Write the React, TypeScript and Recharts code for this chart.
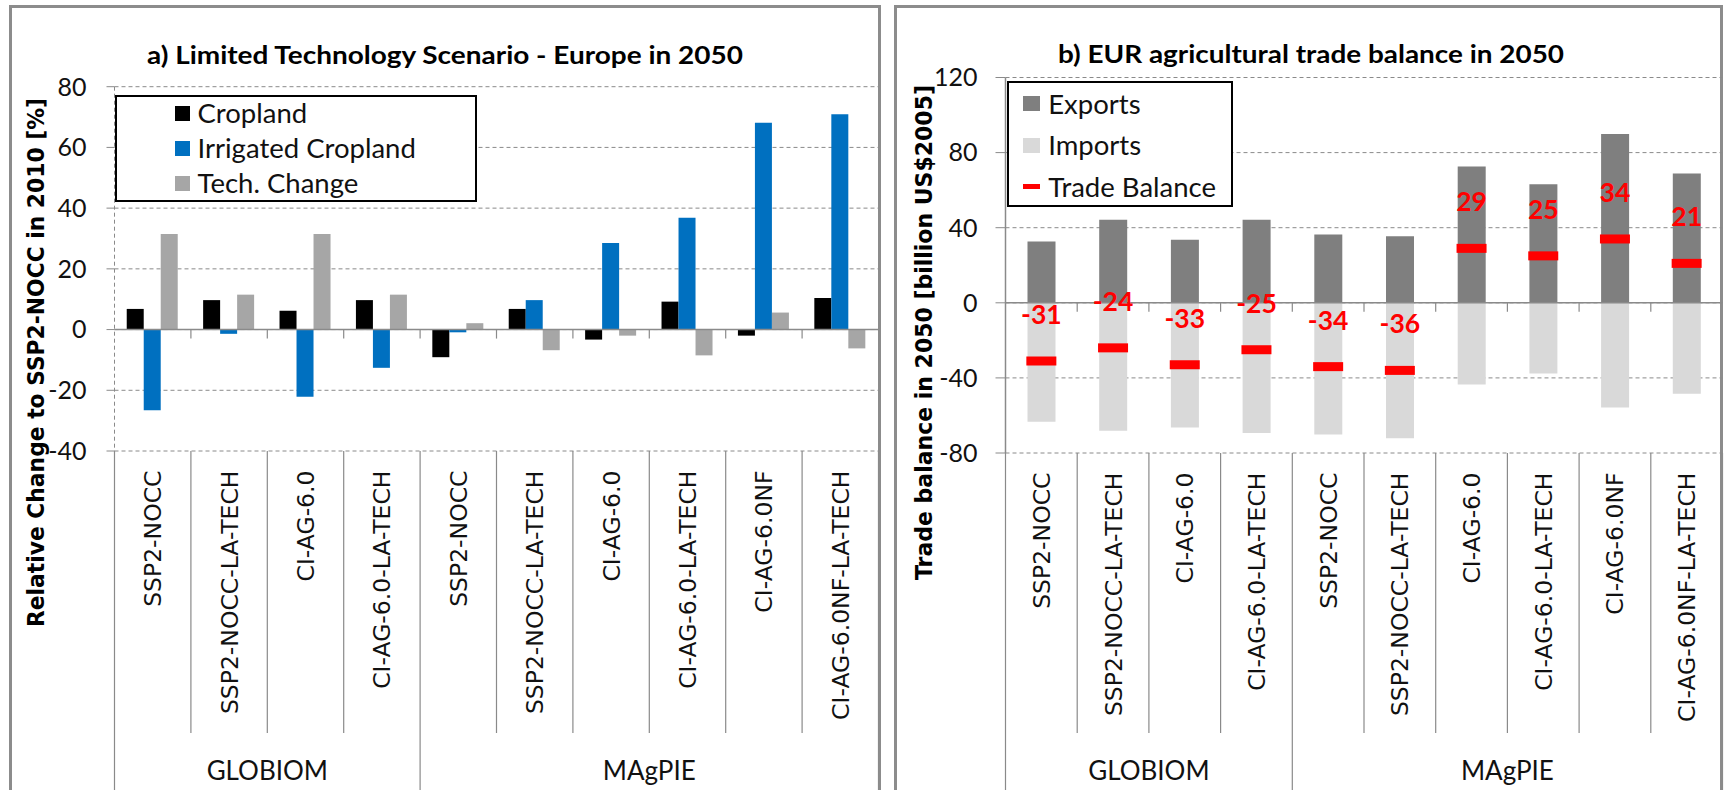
import React from 'react';
import {
  BarChart,
  ComposedChart,
  Bar,
  Line,
  XAxis,
  YAxis,
  CartesianGrid,
  ReferenceLine,
  Legend,
} from 'recharts';

// ---------- data ----------
const categories = [
  'SSP2-NOCC',
  'SSP2-NOCC-LA-TECH',
  'CI-AG-6.0',
  'CI-AG-6.0-LA-TECH',
  'SSP2-NOCC',
  'SSP2-NOCC-LA-TECH',
  'CI-AG-6.0',
  'CI-AG-6.0-LA-TECH',
  'CI-AG-6.0NF',
  'CI-AG-6.0NF-LA-TECH',
];
const models = [
  'GLOBIOM', 'GLOBIOM', 'GLOBIOM', 'GLOBIOM',
  'MAgPIE', 'MAgPIE', 'MAgPIE', 'MAgPIE', 'MAgPIE', 'MAgPIE',
];

const cropland = [6.8, 9.7, 6.2, 9.7, -9.1, 6.8, -3.3, 9.2, -2.0, 10.4];
const irrigatedCropland = [-26.6, -1.4, -22.1, -12.6, -0.9, 9.7, 28.5, 36.8, 68.1, 70.9];
const techChange = [31.5, 11.5, 31.5, 11.5, 2.1, -6.8, -2.0, -8.5, 5.6, -6.2];

const exportsValues = [32.7, 44.2, 33.6, 44.2, 36.4, 35.5, 72.6, 63.1, 89.9, 68.9];
const importsValues = [-63.4, -68.1, -66.4, -69.3, -70.2, -72.1, -43.5, -37.7, -55.8, -48.5];
const tradeBalance = [-31, -24, -33, -25, -34, -36, 29, 25, 34, 21];

const leftTicks = [-40, -20, 0, 20, 40, 60, 80];
const rightTicks = [-80, -40, 0, 40, 80, 120];

const leftSeries = ['Cropland', 'Irrigated Cropland', 'Tech. Change'];
const rightSeries = ['Exports', 'Imports', 'Trade Balance'];

const leftTitle = 'a) Limited Technology Scenario - Europe in 2050';
const rightTitle = 'b) EUR agricultural trade balance in 2050';
const leftYTitle = 'Relative Change to SSP2-NOCC in 2010 [%]';
const rightYTitle = 'Trade balance in 2050 [billion US$2005]';

// ---------- styles ----------
const GRID = '#8a8a8a';
const SANS = "Lato, 'Open Sans', sans-serif";
const WIDE = "'DejaVu Sans', Verdana, sans-serif";
const C_CROP = '#000000';
const C_IRR = '#0070c0';
const C_TECH = '#a6a6a6';
const C_EXP = '#7f7f7f';
const C_IMP = '#d9d9d9';
const C_BAL = '#ff0000';

const keys = categories.map((c, i) => `${models[i]}|${c}`);

const leftRows = keys.map((k, i) => ({
  key: k,
  cropland: cropland[i],
  irrigated: irrigatedCropland[i],
  tech: techChange[i],
}));

const rightRows = keys.map((k, i) => ({
  key: k,
  exports: exportsValues[i],
  imports: importsValues[i],
  balance: tradeBalance[i],
}));

function makeCategoryTick(innerLen: number, labelGap: number, groupBaseline: number) {
  return function CategoryTick(props: any) {
    const { x, y, payload } = props;
    const idx = keys.indexOf(String(payload.value));
    const model = models[idx];
    const cat = categories[idx];
    const half = payload.offset ?? 0;
    const left = x - half;
    const right = x + half;
    const firstIdx = models.indexOf(model);
    const count = models.filter((m) => m === model).length;
    const isFirst = firstIdx === idx;
    const isLast = idx === models.length - 1;
    const ly = y + labelGap;
    return (
      <g>
        <line x1={left} x2={left} y1={y} y2={isFirst ? y + 400 : y + innerLen} stroke={GRID} strokeWidth={1.2} />
        {isLast && <line x1={right} x2={right} y1={y} y2={y + 400} stroke={GRID} strokeWidth={1.2} />}
        <text
          x={x}
          y={ly}
          transform={`rotate(-90 ${x} ${ly})`}
          textAnchor="end"
          dy="0.36em"
          fontFamily={WIDE}
          fontSize={23.5}
          fill="#111"
        >
          {cat}
        </text>
        {isFirst && (
          <text
            x={x + (count - 1) * half}
            y={y + groupBaseline}
            textAnchor="middle"
            fontFamily={SANS}
            fontSize={26}
            fill="#111"
          >
            {model}
          </text>
        )}
      </g>
    );
  };
}

const leftTick = makeCategoryTick(282, 19.5, 329);
const rightTick = makeCategoryTick(280, 19.5, 327);

function ZeroLine(props: any) {
  const { x1, y1, x2, y2 } = props;
  const n = keys.length;
  const step = (x2 - x1) / n;
  return (
    <g>
      <line x1={x1} y1={y1} x2={x2} y2={y2} stroke={GRID} strokeWidth={1.5} />
      {Array.from({ length: n - 1 }, (_, k) => (
        <line
          key={k}
          x1={x1 + step * (k + 1)}
          x2={x1 + step * (k + 1)}
          y1={y1}
          y2={y1 + 9}
          stroke={GRID}
          strokeWidth={1.2}
        />
      ))}
    </g>
  );
}

function BalanceDot(props: any) {
  const { cx, cy, payload } = props;
  if (cx == null || cy == null) return <g />;
  return (
    <g>
      <rect x={cx - 15} y={cy - 4.5} width={30} height={9} fill={C_BAL} />
      <text
        x={cx}
        y={cy - 37}
        textAnchor="middle"
        fontFamily={SANS}
        fontWeight={700}
        fontSize={26.5}
        fill={C_BAL}
      >
        {String(payload.balance)}
      </text>
    </g>
  );
}

const leftColors = [C_CROP, C_IRR, C_TECH];

function LeftLegend() {
  return (
    <div
      style={{
        position: 'relative',
        width: 362.5,
        height: 107,
        boxSizing: 'border-box',
        border: '2px solid #000',
        background: '#fff',
      }}
    >
      {leftSeries.map((name, i) => (
        <div key={name} style={{ position: 'absolute', left: 0, top: 1 + i * 35, height: 30, width: '100%' }}>
          <div style={{ position: 'absolute', left: 58.5, top: 7.5, width: 15, height: 15, background: leftColors[i] }} />
          <div
            style={{
              position: 'absolute',
              left: 81,
              top: 0,
              lineHeight: '30px',
              fontSize: 27.5,
              fontFamily: SANS,
              color: '#111',
              whiteSpace: 'nowrap',
            }}
          >
            {name}
          </div>
        </div>
      ))}
    </div>
  );
}

function RightLegend() {
  return (
    <div
      style={{
        position: 'relative',
        width: 226.5,
        height: 126,
        boxSizing: 'border-box',
        border: '2px solid #000',
        background: '#fff',
      }}
    >
      {rightSeries.map((name, i) => (
        <div key={name} style={{ position: 'absolute', left: 0, top: 6 + i * 41.5, height: 30, width: '100%' }}>
          {i < 2 ? (
            <div
              style={{
                position: 'absolute',
                left: 14.5,
                top: 7.5,
                width: 16.5,
                height: 15,
                background: i === 0 ? C_EXP : C_IMP,
              }}
            />
          ) : (
            <div style={{ position: 'absolute', left: 14.5, top: 12.5, width: 16.5, height: 5, background: C_BAL }} />
          )}
          <div
            style={{
              position: 'absolute',
              left: 39.5,
              top: 0,
              lineHeight: '30px',
              fontSize: 27.5,
              fontFamily: SANS,
              color: '#111',
              whiteSpace: 'nowrap',
            }}
          >
            {name}
          </div>
        </div>
      ))}
    </div>
  );
}

export default function App() {
  return (
    <div
      style={{
        position: 'absolute',
        left: 0,
        top: 0,
        width: 1725,
        height: 790,
        overflow: 'hidden',
        background: '#fff',
      }}
    >
      {/* panel frames */}
      <div
        style={{
          position: 'absolute',
          left: 9,
          top: 5,
          width: 872,
          height: 790,
          boxSizing: 'border-box',
          border: '3px solid #8c8c8c',
          borderBottom: 'none',
        }}
      />
      <div
        style={{
          position: 'absolute',
          left: 894,
          top: 5,
          width: 829,
          height: 790,
          boxSizing: 'border-box',
          border: '3px solid #8c8c8c',
          borderBottom: 'none',
        }}
      />

      {/* left chart */}
      <div style={{ position: 'absolute', left: 0, top: 0 }}>
        <BarChart
          width={880}
          height={790}
          data={leftRows}
          margin={{ top: 86.7, right: 1.5, bottom: 0, left: 54.5 }}
          barCategoryGap="16%"
          barGap={0}
        >
          <CartesianGrid vertical={false} stroke={GRID} strokeDasharray="4 3" />
          <XAxis
            dataKey="key"
            type="category"
            height={339}
            interval={0}
            tickSize={0}
            tickMargin={0}
            axisLine={false}
            tickLine={false}
            tick={leftTick}
          />
          <YAxis
            type="number"
            domain={[-40, 80]}
            ticks={leftTicks}
            width={60}
            interval={0}
            tickSize={8}
            tickMargin={20}
            axisLine={{ stroke: GRID, strokeDasharray: '4 3' }}
            tickLine={{ stroke: GRID }}
            tick={{ fill: '#111', fontSize: 25, fontFamily: SANS }}
          />
          <Bar dataKey="cropland" name={leftSeries[0]} fill={C_CROP} isAnimationActive={false} />
          <Bar dataKey="irrigated" name={leftSeries[1]} fill={C_IRR} isAnimationActive={false} />
          <Bar dataKey="tech" name={leftSeries[2]} fill={C_TECH} isAnimationActive={false} />
          <ReferenceLine y={0} shape={(p: any) => <ZeroLine {...p} />} />
          <Legend
            layout="vertical"
            align="center"
            verticalAlign="middle"
            wrapperStyle={{ position: 'absolute', left: 114.5, top: 95, width: 362.5, height: 107 }}
            content={() => <LeftLegend />}
          />
        </BarChart>
      </div>

      {/* right chart */}
      <div style={{ position: 'absolute', left: 880, top: 0 }}>
        <ComposedChart
          width={845}
          height={790}
          data={rightRows}
          margin={{ top: 77.5, right: 2.5, bottom: 0, left: 65.5 }}
          stackOffset="sign"
        >
          <CartesianGrid vertical={false} stroke={GRID} strokeDasharray="4 3" />
          <XAxis
            dataKey="key"
            type="category"
            height={337}
            interval={0}
            tickSize={0}
            tickMargin={0}
            axisLine={false}
            tickLine={false}
            tick={rightTick}
          />
          <YAxis
            type="number"
            domain={[-80, 120]}
            ticks={rightTicks}
            width={60}
            interval={0}
            tickSize={10}
            tickMargin={18}
            axisLine={{ stroke: GRID, strokeWidth: 1.5 }}
            tickLine={{ stroke: GRID }}
            tick={{ fill: '#111', fontSize: 25, fontFamily: SANS }}
          />
          <Bar dataKey="exports" name={rightSeries[0]} stackId="t" barSize={28} fill={C_EXP} isAnimationActive={false} />
          <Bar dataKey="imports" name={rightSeries[1]} stackId="t" barSize={28} fill={C_IMP} isAnimationActive={false} />
          <ReferenceLine y={0} shape={(p: any) => <ZeroLine {...p} />} />
          <Line
            dataKey="balance"
            name={rightSeries[2]}
            stroke="none"
            strokeWidth={0}
            dot={(p: any) => <BalanceDot key={p.index} {...p} />}
            activeDot={false}
            legendType="none"
            isAnimationActive={false}
          />
          <Legend
            layout="vertical"
            align="center"
            verticalAlign="middle"
            wrapperStyle={{ position: 'absolute', left: 126.7, top: 80.7, width: 226.5, height: 126 }}
            content={() => <RightLegend />}
          />
        </ComposedChart>
      </div>

      {/* titles */}
      <svg
        width={1725}
        height={790}
        style={{ position: 'absolute', left: 0, top: 0, pointerEvents: 'none' }}
      >
        <text x={445} y={63.5} textAnchor="middle" fontFamily={SANS} fontWeight={700} fontSize={24} textLength={596} lengthAdjust="spacingAndGlyphs" fill="#000">
          {leftTitle}
        </text>
        <text x={1311} y={63} textAnchor="middle" fontFamily={SANS} fontWeight={700} fontSize={24} textLength={506} lengthAdjust="spacingAndGlyphs" fill="#000">
          {rightTitle}
        </text>
        <text
          x={44}
          y={362.5}
          transform="rotate(-90 44 362.5)"
          textAnchor="middle"
          fontFamily={WIDE}
          fontWeight={700}
          fontSize={23}
          textLength={529}
          lengthAdjust="spacingAndGlyphs"
          fill="#000"
        >
          {leftYTitle}
        </text>
        <text
          x={931.5}
          y={332.5}
          transform="rotate(-90 931.5 332.5)"
          textAnchor="middle"
          fontFamily={WIDE}
          fontWeight={700}
          fontSize={23}
          textLength={495}
          lengthAdjust="spacingAndGlyphs"
          fill="#000"
        >
          {rightYTitle}
        </text>
      </svg>
    </div>
  );
}
